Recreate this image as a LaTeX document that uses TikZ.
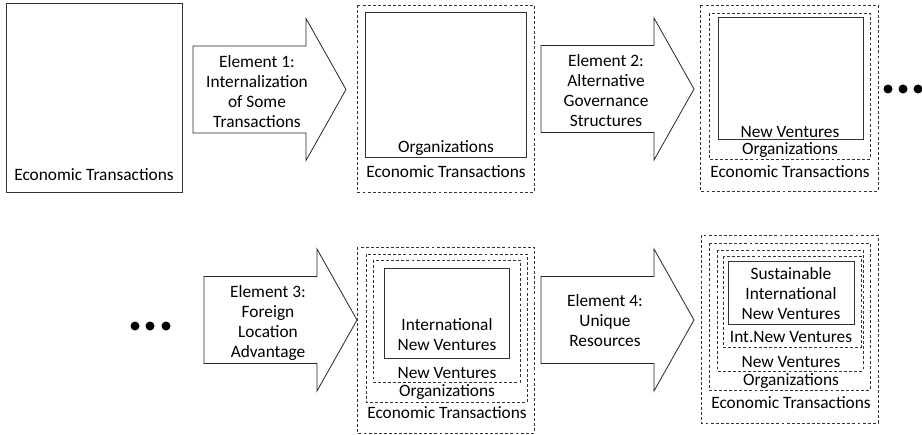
\documentclass[tikz,border=0pt]{standalone}
\usepackage{fontspec}
\setmainfont{Carlito}
\usepackage{tikz}
\usetikzlibrary{positioning}
\tikzstyle{solidbox} = [draw=black!80, line width=0.75pt]
\tikzstyle{dashbox} = [draw=black!80, line width=0.6pt, dash pattern=on 2.2pt off 1.6pt]
\tikzstyle{arrowline} = [draw=black!85, line width=0.6pt, fill=white]
\tikzstyle{lbl} = [inner sep=0pt, align=center, font=\fontsize{13}{15}\selectfont]
% block arrow: left end and middle height
\newcommand\blockarrow[2]{%
\path[arrowline] (#1,#2-43.5) -- ++(113,0) -- ++(0,-27.5) -- (#1+153,#2)
  -- (#1+113,#2+71) -- ++(0,-27.5) -- (#1,#2+43.5) -- cycle;}

\begin{document}
\begin{tikzpicture}[x=0.75pt,y=-0.75pt]
\useasboundingbox (0,0) rectangle (922,435);
% first row
\path[solidbox] (6,4) rectangle (182,192);
\node[lbl] (et1) at (94,175) {Economic Transactions};
\blockarrow{193}{89.5}
\node[lbl] (el1) at (257,92) {Element 1:\\Internalization\\of Some\\Transactions};
\path[dashbox] (357,5) rectangle (534,192);
\path[solidbox] (365,13) rectangle (526,158);
\node[lbl] (org2) at (446,148) {Organizations};
\node[lbl] (et2) at (446,172) {Economic Transactions};
\blockarrow{541}{89}
\node[lbl] (el2) at (606,91) {Element 2:\\Alternative\\Governance\\Structures};
\path[dashbox] (700,5) rectangle (878,191);
\path[dashbox] (709,13) rectangle (870,159);
\path[solidbox] (718,18) rectangle (863,140);
\node[lbl] (nv3) at (790,132) {New Ventures};
\node[lbl] (org3) at (790,150) {Organizations};
\node[lbl] (et3) at (790,172) {Economic Transactions};
\foreach \x in {888,903,918} \fill (\x,89) circle (4.5);
% second row
\foreach \x in {135,150,166} \fill (\x,326) circle (4.5);
\blockarrow{204}{320}
\node[lbl] (el3) at (268,323) {Element 3:\\Foreign\\Location\\Advantage};
\path[dashbox] (357,247) rectangle (534,433);
\path[dashbox] (366,254) rectangle (527,402);
\path[dashbox] (373,260) rectangle (520,382);
\path[solidbox] (384,268) rectangle (509,358);
\node[lbl] (inv4) at (447,335) {International\\New Ventures};
\node[lbl] (nv4) at (447,373) {New Ventures};
\node[lbl] (org4) at (447,392) {Organizations};
\node[lbl] (et4) at (447,413) {Economic Transactions};
\blockarrow{541}{320}
\node[lbl] (el4) at (605,321) {Element 4:\\Unique\\Resources};
\path[dashbox] (701,235) rectangle (878,423);
\path[dashbox] (709,243) rectangle (870,390);
\path[dashbox] (717,250) rectangle (863,371);
\path[dashbox] (723,256) rectangle (861,347);
\path[solidbox] (728,261) rectangle (854,324);
\node[lbl] (sinv5) at (791,294) {Sustainable\\International\\New Ventures};
\node[lbl] (inv5) at (791,337) {Int.New Ventures};
\node[lbl] (nv5) at (791,362) {New Ventures};
\node[lbl] (org5) at (791,381) {Organizations};
\node[lbl] (et5) at (791,403) {Economic Transactions};
\end{tikzpicture}
\end{document}
